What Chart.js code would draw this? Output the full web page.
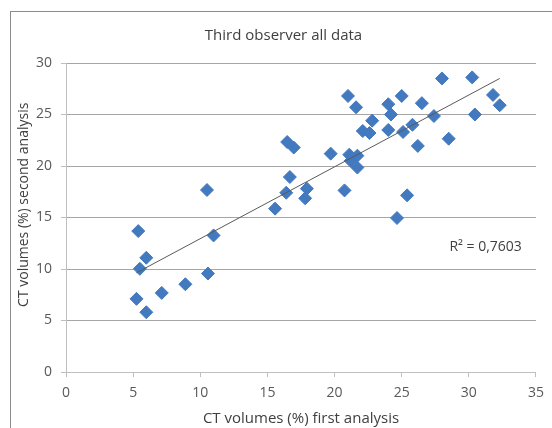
<!DOCTYPE html>
<html>
<head>
<meta charset="utf-8">
<script src="https://cdn.jsdelivr.net/npm/chart.js@4"></script>
<style>
  html, body { margin: 0; padding: 0; background: #fff; }
</style>
</head>
<body>
<canvas id="dispersao" width="552" height="428"></canvas>
<script>
// valores (CT volumes %)
const firstAnalysis = [
  5.38, 5.98, 5.50, 5.25, 5.98, 7.13, 8.89, 10.57, 10.99, 10.50,
  15.57, 16.40, 16.67, 17.94, 17.81, 16.47, 16.96, 19.71, 20.74, 21.1, 21.7, 21.2, 21.7,
  21.0, 21.6, 22.8, 22.1, 22.6, 24.0, 24.2, 25.0, 24.0, 25.1, 25.8, 26.5, 26.2, 27.4,
  28.0, 28.5, 30.25, 30.45, 31.8, 32.3, 25.4, 24.65
];
const secondAnalysis = [
  13.68, 11.09, 10.02, 7.10, 5.80, 7.68, 8.52, 9.56, 13.26, 17.67,
  15.86, 17.4, 18.93, 17.8, 16.86, 22.33, 21.79, 21.2, 17.63, 21.1, 21.0, 20.5, 19.85,
  26.8, 25.7, 24.4, 23.4, 23.2, 26.0, 25.0, 26.8, 23.5, 23.3, 24.0, 26.1, 21.95, 24.85,
  28.5, 22.65, 28.6, 25.0, 26.9, 25.9, 17.15, 14.95
];
const xTicks = [0, 5, 10, 15, 20, 25, 30, 35];
const yTicks = [0, 5, 10, 15, 20, 25, 30];

// linha de tendência
const trendSlope = 0.6975;
const trendIntercept = 5.97;
const rSquaredText = "R\u00B2 = 0,7603";
const rSquaredAt = [28.55, 12.1];

const pontos = firstAnalysis.map((v, i) => ({ x: v, y: secondAnalysis[i] }));
const xMin = Math.min(...firstAnalysis);
const xMax = Math.max(...firstAnalysis);
const tendencia = [
  { x: xMin, y: trendSlope * xMin + trendIntercept },
  { x: xMax, y: trendSlope * xMax + trendIntercept },
];

const fonte = "'Open Sans'";

// moldura cinza em volta do gráfico
const moldura = {
  id: "moldura",
  beforeDraw(chart) {
    const ctx = chart.ctx;
    ctx.save();
    ctx.strokeStyle = "#8c8c8c";
    ctx.lineWidth = 1;
    ctx.strokeRect(10.5, 11.5, 700, 600);
    ctx.restore();
  },
};

// texto do R² ao lado da linha
const rotuloR2 = {
  id: "rotuloR2",
  afterDatasetsDraw(chart) {
    const ctx = chart.ctx;
    const x = chart.scales.x.getPixelForValue(rSquaredAt[0]);
    const y = chart.scales.y.getPixelForValue(rSquaredAt[1]);
    ctx.save();
    ctx.font = "14px " + fonte;
    ctx.fillStyle = "#404040";
    ctx.textAlign = "left";
    ctx.textBaseline = "middle";
    ctx.fillText(rSquaredText, x, y);
    ctx.restore();
  },
};

new Chart(document.getElementById("dispersao"), {
  type: "scatter",
  data: {
    datasets: [
      {
        type: "line",
        label: "Linear",
        data: tendencia,
        borderColor: "#595959",
        borderWidth: 1,
        pointRadius: 0,
        fill: false,
        order: 0,
      },
      {
        label: "Third observer",
        data: pontos,
        pointStyle: "rectRot",
        pointRadius: 6.5,
        pointHoverRadius: 6.5,
        backgroundColor: "#4279BF",
        borderColor: "#4279BF",
        borderWidth: 1,
        order: 1,
      },
    ],
  },
  options: {
    responsive: false,
    animation: false,
    devicePixelRatio: 1,
    layout: { padding: { left: 22, right: 7, top: 0, bottom: 0 } },
    plugins: {
      legend: { display: false },
      title: {
        display: true,
        text: "Third observer all data",
        color: "#404040",
        font: { family: fonte, size: 15, weight: "normal" },
        padding: { top: 27, bottom: 18 },
      },
    },
    scales: {
      x: {
        type: "linear",
        min: 0,
        max: 35,
        afterBuildTicks: (s) => { s.ticks = xTicks.map((v) => ({ value: v })); },
        afterFit: (s) => { s.height = 56; },
        grid: { drawOnChartArea: false, tickLength: 5, color: "#bfbfbf" },
        border: { color: "#bfbfbf" },
        ticks: { color: "#595959", padding: 8, font: { family: fonte, size: 14 } },
        title: {
          display: true,
          text: "CT volumes (%) first analysis",
          color: "#404040",
          font: { family: fonte, size: 15 },
          padding: { top: 2, bottom: 0 },
        },
      },
      y: {
        type: "linear",
        min: 0,
        max: 30,
        afterBuildTicks: (s) => { s.ticks = yTicks.map((v) => ({ value: v })); },
        afterFit: (s) => { s.width = 44; },
        grid: { color: "#a6a6a6", tickLength: 5, tickColor: "#bfbfbf" },
        border: { color: "#bfbfbf" },
        ticks: { color: "#595959", padding: 9, font: { family: fonte, size: 14 } },
        title: {
          display: true,
          text: "       CT volumes (%) second analysis",
          color: "#404040",
          font: { family: fonte, size: 14 },
          padding: { top: -6, bottom: 0 },
        },
      },
    },
  },
  plugins: [moldura, rotuloR2],
});
</script>
</body>
</html>
